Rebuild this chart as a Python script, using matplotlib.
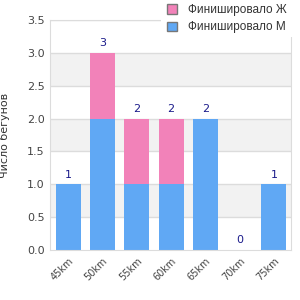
import numpy as np
import matplotlib
matplotlib.use('Agg')
import matplotlib.pyplot as plt
from matplotlib.patches import Patch, Rectangle

categories = ['45km', '50km', '55km', '60km', '65km', '70km', '75km']
finished_m = [1, 2, 1, 1, 2, 0, 1]
finished_f = [0, 1, 1, 1, 0, 0, 0]
yticks = [0.0, 0.5, 1.0, 1.5, 2.0, 2.5, 3.0, 3.5]

blue = '#60a8f4'
pink = '#f282b9'
grid_c = '#dcdcdc'

fig = plt.figure(figsize=(3, 3), dpi=100)
ax = fig.add_axes([50 / 300, 50 / 300, 241 / 300, 230 / 300])

x = np.arange(len(categories))
m = np.array(finished_m)
f = np.array(finished_f)

# alternating background bands
for i in range(len(yticks) - 1):
    if i % 2 == 1:
        ax.axhspan(yticks[i], yticks[i + 1], color='#f2f2f2', zorder=0, lw=0)
for t in yticks[1:]:
    ax.axhline(t, color=grid_c, lw=1, zorder=0.5)

ax.bar(x, m, width=0.73, color=blue, zorder=2)
ax.bar(x, f, width=0.73, bottom=m, color=pink, zorder=2)

for xi, tot in zip(x, m + f):
    ax.text(xi, tot + 0.07, str(tot), ha='center', va='bottom',
            color='#1a1a8a', fontsize=8)

ax.set_xlim(-0.53, 6.5)
ax.set_ylim(0, 3.5)
ax.set_yticks(yticks)
ax.set_yticklabels(['%.1f' % t for t in yticks], fontsize=8, color='#444444')
ax.set_xticks(x)
ax.set_xticklabels(categories, rotation=45, ha='right', rotation_mode='anchor',
                   fontsize=7, color='#444444')
ax.tick_params(length=0, pad=4)
for s in ax.spines.values():
    s.set_color(grid_c)
ax.yaxis.set_label_coords((10 - 50) / 241, 0.52)
ax.set_ylabel('Число бегунов', fontsize=8, color='#333333')

# white box behind the legend, covering the top right of the plot
fig.patches.append(Rectangle((161 / 300, 1 - 37 / 300), 139 / 300, 37 / 300,
                             transform=fig.transFigure, facecolor='white',
                             edgecolor='none', zorder=4))

handles = [Patch(facecolor=pink, edgecolor='#777777', label='Финишировало Ж'),
           Patch(facecolor=blue, edgecolor='#777777', label='Финишировало М')]
leg = fig.legend(handles=handles, loc='upper left',
                 bbox_to_anchor=(167 / 300, 1 - 4 / 300),
                 prop={'family': 'Liberation Sans', 'size': 8.5},
                 frameon=False, handlelength=0.85,
                 handleheight=0.85, handletextpad=0.9, labelspacing=0.45,
                 borderpad=0.0, borderaxespad=0)
leg.set_zorder(5)
for t in leg.get_texts():
    t.set_color('#333333')

plt.savefig('out.png', dpi=100)
plt.close()
